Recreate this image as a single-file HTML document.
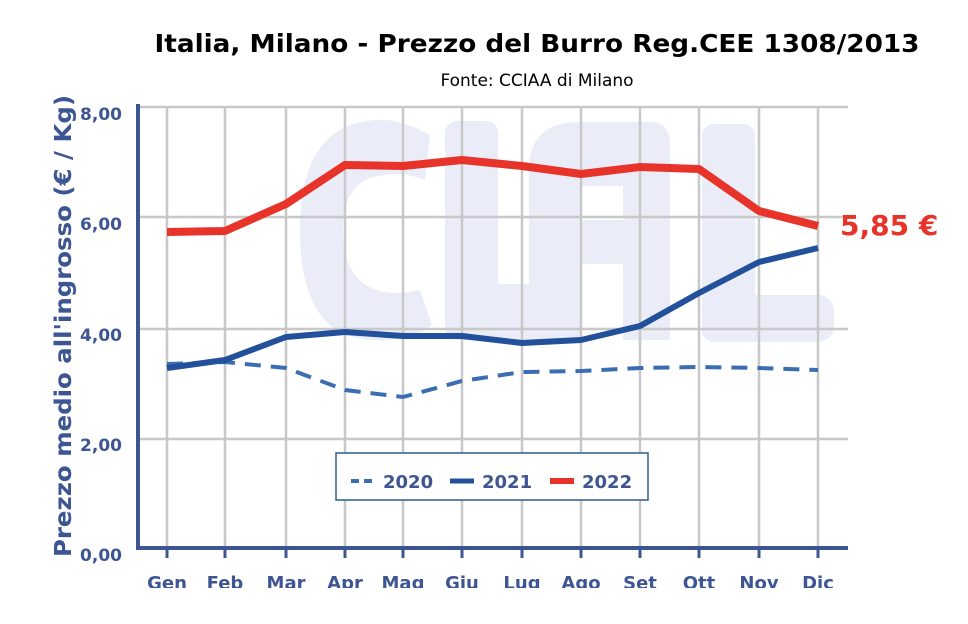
<!DOCTYPE html>
<html><head><meta charset="utf-8"><style>body{margin:0;background:#fff}svg{display:block}</style></head><body>
<svg width="968" height="624" viewBox="0 0 968 624" xmlns="http://www.w3.org/2000/svg" font-family="DejaVu Sans, Liberation Sans, sans-serif">
<rect width="968" height="624" fill="#fff"/>
<g fill="#eaedf8" stroke="none">
<path d="M430,135 Q400,118 375,120 Q300,125 300,230 Q300,340 375,340 Q405,342 432,325 L420,290 Q400,295 385,292 Q343,285 343,230 Q343,178 385,175 Q405,172 425,180 Z"/>
<rect x="445" y="121" width="53" height="219" rx="12"/>
<rect x="495" y="284" width="40" height="56"/>
<path d="M529,340 L529,170 Q529,122 580,122 L650,122 Q670,122 670,145 L670,340 L623,340 L623,264 L582,264 L582,340 Z M582,186 L582,220 L623,220 L623,186 Z" fill-rule="evenodd"/>
<rect x="702" y="124" width="53" height="218" rx="12"/>
<rect x="702" y="295" width="132" height="47" rx="16"/>
</g>
<g stroke="#c8c8c8" stroke-width="2.5">
<line x1="138" y1="107" x2="848" y2="107"/><line x1="138" y1="217" x2="848" y2="217"/>
<line x1="138" y1="329" x2="848" y2="329"/><line x1="138" y1="439" x2="848" y2="439"/>
<line x1="167" y1="107" x2="167" y2="548"/><line x1="225" y1="107" x2="225" y2="548"/>
<line x1="286" y1="107" x2="286" y2="548"/><line x1="345" y1="107" x2="345" y2="548"/>
<line x1="403" y1="107" x2="403" y2="548"/><line x1="462" y1="107" x2="462" y2="548"/>
<line x1="522" y1="107" x2="522" y2="548"/><line x1="581" y1="107" x2="581" y2="548"/>
<line x1="640" y1="107" x2="640" y2="548"/><line x1="699" y1="107" x2="699" y2="548"/>
<line x1="759" y1="107" x2="759" y2="548"/><line x1="818" y1="107" x2="818" y2="548"/>
</g>
<g stroke="#3d5593" stroke-width="4" fill="none">
<line x1="138" y1="104" x2="138" y2="550"/><line x1="136" y1="548" x2="848" y2="548"/>
</g>
<g stroke="#3d5593" stroke-width="3">
<line x1="167" y1="548" x2="167" y2="558"/><line x1="225" y1="548" x2="225" y2="558"/><line x1="286" y1="548" x2="286" y2="558"/><line x1="345" y1="548" x2="345" y2="558"/><line x1="403" y1="548" x2="403" y2="558"/><line x1="462" y1="548" x2="462" y2="558"/><line x1="522" y1="548" x2="522" y2="558"/><line x1="581" y1="548" x2="581" y2="558"/><line x1="640" y1="548" x2="640" y2="558"/><line x1="699" y1="548" x2="699" y2="558"/><line x1="759" y1="548" x2="759" y2="558"/><line x1="818" y1="548" x2="818" y2="558"/>
</g>
<polyline fill="none" stroke="#3b6db3" stroke-width="4" stroke-dasharray="16,10" points="167,364 225,362 286,368 345,390 403,397 462,381 522,372 581,371 640,368 699,367 759,368 818,370"/>
<polyline fill="none" stroke="#23509a" stroke-width="6" stroke-linejoin="round" points="167,368 225,360 286,337 345,332 403,336 462,336 522,343 581,340 640,326 699,293 759,262 818,248"/>
<polyline fill="none" stroke="#e8332a" stroke-width="8" stroke-linejoin="round" points="167,232 225,231 286,204 345,165 403,166 462,160 522,166 581,174 640,167 699,169 759,211 818,226"/>
<g fill="#3d5593" font-weight="bold" font-size="17" text-anchor="end">
<text x="122" y="120">8,00</text><text x="122" y="230">6,00</text><text x="122" y="341">4,00</text><text x="122" y="451">2,00</text><text x="122" y="561">0,00</text>
</g>
<g fill="#3d5593" font-weight="bold" font-size="18" text-anchor="middle">
<text x="167" y="589">Gen</text><text x="225" y="589">Feb</text><text x="286" y="589">Mar</text><text x="345" y="589">Apr</text><text x="403" y="589">Mag</text><text x="462" y="589">Giu</text><text x="522" y="589">Lug</text><text x="581" y="589">Ago</text><text x="640" y="589">Set</text><text x="699" y="589">Ott</text><text x="759" y="589">Nov</text><text x="818" y="589">Dic</text>
</g>
<rect x="0" y="588" width="968" height="36" fill="#fff"/>
<text transform="translate(71,326) rotate(-90)" text-anchor="middle" fill="#3d5593" font-weight="bold" font-size="23" textLength="462" lengthAdjust="spacingAndGlyphs">Prezzo medio all'ingrosso (€ / Kg)</text>
<text x="537" y="52" text-anchor="middle" font-weight="bold" font-size="25" fill="#000" textLength="765" lengthAdjust="spacingAndGlyphs">Italia, Milano - Prezzo del Burro Reg.CEE 1308/2013</text>
<text x="537" y="86" text-anchor="middle" font-size="17" fill="#000">Fonte: CCIAA di Milano</text>
<text x="840" y="235" fill="#e8332a" font-weight="bold" font-size="28">5,85 €</text>
<rect x="336" y="453" width="312" height="47" fill="#fff" stroke="#2d5a8c" stroke-width="1.5"/>
<line x1="351" y1="481" x2="375" y2="481" stroke="#3b6db3" stroke-width="4" stroke-dasharray="8,5"/>
<text x="383" y="488" fill="#3d5593" font-weight="bold" font-size="18">2020</text>
<line x1="450" y1="481" x2="474" y2="481" stroke="#23509a" stroke-width="5"/>
<text x="482" y="488" fill="#3d5593" font-weight="bold" font-size="18">2021</text>
<line x1="550" y1="481" x2="574" y2="481" stroke="#e8332a" stroke-width="6"/>
<text x="582" y="488" fill="#3d5593" font-weight="bold" font-size="18">2022</text>
</svg>
</body></html>
